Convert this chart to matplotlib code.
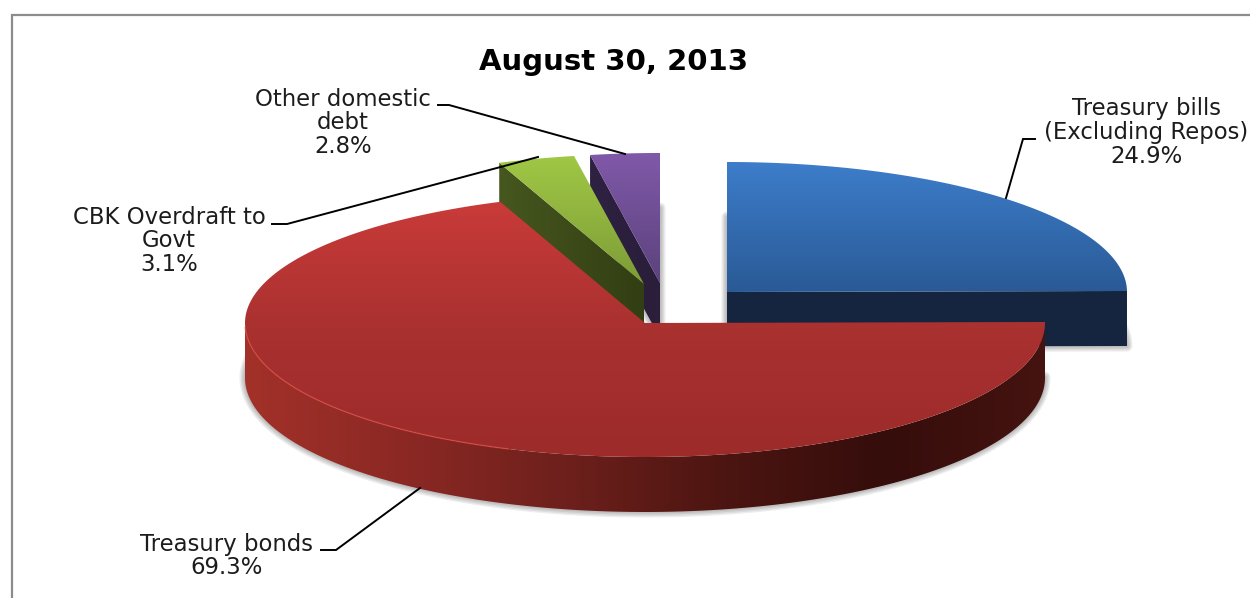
import numpy as np
import matplotlib
matplotlib.use("Agg")
import matplotlib.pyplot as plt
from matplotlib.colors import LinearSegmentedColormap
from matplotlib.patches import Polygon

plt.rcParams['font.family'] = ['DejaVu Sans']

title = "August 30, 2013"
names = ["Treasury bills\n(Excluding Repos)", "Treasury bonds", "CBK Overdraft to\nGovt", "Other domestic\ndebt"]
shares = [24.9, 69.3, 3.1, 2.8]

# pie geometry in pixels
RX = 400
RY_BACK = 130
RY_FRONT = 134
DEPTH = 55

# exploded centre of each slice, wall shading
centres = [(727, 292), (645, 323), (644, 284), (660, 283)]
top_cols = [["#3d7dca", "#2a5a96"], ["#c93b39", "#a93130", "#9c2b2a"], ["#a0c745", "#7d9c37"], ["#8059a9", "#5b427c"]]
cut_cols = [["#15253f", "#15253f"], None, ["#46571f", "#323e13"], ["#2e2142", "#2a1e3a"]]
cut_side = ["end", None, "start", "start"]
wall_cols = ["#a23129", "#8b2824", "#6e201c", "#4c1511", "#350d0b", "#451310"]

# label text centre, first line y, leader line points
label_pos = [(1146, 109), (227, 544), (169, 217), (343, 99)]
leaders = [
    [(1035, 139), (1023, 139), (1006, 198)],
    [(321, 550), (336, 550), (420, 488)],
    [(272, 224), (287, 224), (538, 157)],
    [(438, 105), (449, 105), (625, 154)],
]

fig = plt.figure(figsize=(12.5, 5.98), dpi=100)
ax = fig.add_axes([0, 0, 1, 1])


def arc(centre, t0, t1, n=200):
    # angles run clockwise from twelve o'clock
    t = np.linspace(t0, t1, n)
    c = np.cos(np.radians(t))
    ry = np.where(c > 0, RY_BACK, RY_FRONT)
    return np.column_stack([centre[0] + RX * np.sin(np.radians(t)), centre[1] - ry * c])


def shaded(poly, colours, horizontal=False):
    # gradient image clipped to the polygon
    cmap = LinearSegmentedColormap.from_list("g", colours)
    xs, ys = poly[:, 0], poly[:, 1]
    grad = np.linspace(0, 1, 256)
    grad = grad[None, :] if horizontal else grad[:, None]
    im = ax.imshow(grad, cmap=cmap, aspect="auto", interpolation="bilinear",
                   extent=(xs.min(), xs.max(), ys.max(), ys.min()))
    patch = Polygon(poly, closed=True, transform=ax.transData, fc="none", ec="none")
    ax.add_patch(patch)
    im.set_clip_path(patch)


def shadow(centre, t0, t1):
    base = np.vstack([[centre[0], centre[1] + DEPTH], arc((centre[0], centre[1] + DEPTH), t0, t1)])
    for lw in [8, 6, 4, 2]:
        ax.add_patch(Polygon(base, closed=True, fc="none", ec="#000000", lw=lw, alpha=0.07,
                             joinstyle="round", zorder=-1))


def outer_wall(centre, t0, t1):
    a = max(t0, 90)
    b = min(t1, 270)
    if b <= a:
        return
    front = arc(centre, a, b)
    back = front[::-1] + [0, DEPTH]
    shaded(np.vstack([front, back]), wall_cols, horizontal=True)


def cut_face(centre, t, colours):
    edge = arc(centre, t, t, 1)[0]
    pts = np.array([centre, edge, edge + [0, DEPTH], np.array(centre) + [0, DEPTH]], dtype=float)
    shaded(pts, colours, horizontal=True)


total = sum(shares)
ends = np.cumsum(shares) / total * 360
starts = np.concatenate([[0], ends[:-1]])

# shadows go under everything
for i in [0, 3, 2, 1]:
    shadow(centres[i], starts[i], ends[i])

# back slices first, the big red slice goes on top of them
for i in [0, 3, 2, 1]:
    c, t0, t1 = centres[i], starts[i], ends[i]
    outer_wall(c, t0, t1)
    if cut_side[i] is not None:
        cut_face(c, t0 if cut_side[i] == "start" else t1, cut_cols[i])
    top = np.vstack([c, arc(c, t0, t1)])
    shaded(top, top_cols[i])

# light rim on the front left edge of the red slice
rim = arc(centres[1], 200, 268)
ax.plot(rim[:, 0], rim[:, 1], color="#dc4a42", lw=1.0, alpha=0.7)

# outer chart border, open at the bottom and right
ax.plot([11.5, 11.5, 1250], [598, 14.5, 14.5], color="#8c8c8c", lw=1.6, solid_joinstyle="miter")

for name, share, pos, pts in zip(names, shares, label_pos, leaders):
    lines = name.split("\n") + [f"{share}%"]
    for k, line in enumerate(lines):
        ax.text(pos[0], pos[1] + k * 23.8, line, ha="center", va="center", fontsize=16.4, color="#1c1c1c")
    p = np.array(pts)
    ax.plot(p[:, 0], p[:, 1], color="black", lw=1.4, solid_joinstyle="miter")

ax.text(614, 62, title, ha="center", va="center", fontsize=21, fontweight="bold", color="black")

ax.set_xlim(0, 1250)
ax.set_ylim(598, 0)
ax.axis("off")

fig.savefig("out.png", dpi=100, facecolor="white")
